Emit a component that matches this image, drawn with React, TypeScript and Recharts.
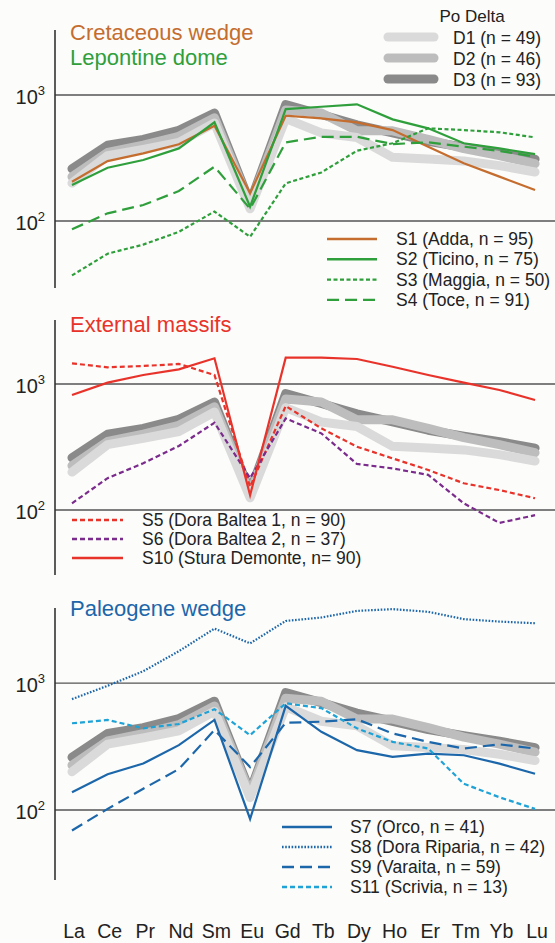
import React from 'react';
import { LineChart, Line, XAxis, YAxis, ReferenceLine } from 'recharts';

// Rare earth elements (x axis)
const ree = ['La', 'Ce', 'Pr', 'Nd', 'Sm', 'Eu', 'Gd', 'Tb', 'Dy', 'Ho', 'Er', 'Tm', 'Yb', 'Lu'];
const yTicks = [100, 1000];

// Po Delta reference bands
const d1 = [200, 330, 370, 420, 600, 125, 650, 500, 460, 320, 310, 300, 275, 245];
const d2 = [225, 350, 400, 470, 660, 135, 760, 720, 520, 520, 445, 375, 330, 285];
const d3 = [260, 400, 445, 525, 720, 140, 840, 700, 580, 500, 430, 385, 348, 310];

// Cretaceous wedge / Lepontine dome
const s1 = [205, 299, 344, 406, 571, 166, 685, 653, 607, 527, 389, 287, 225, 176];
const s2 = [193, 265, 305, 377, 607, 130, 774, 807, 844, 641, 544, 414, 377, 340];
const s3 = [37, 55, 65, 82, 119, 75, 199, 243, 361, 414, 544, 527, 506, 461];
const s4 = [86, 115, 134, 173, 270, 125, 421, 466, 466, 408, 421, 389, 360, 324];

// External massifs
const s5 = [1459, 1357, 1390, 1442, 1179, 153, 669, 445, 318, 257, 208, 163, 144, 124];
const s6 = [113, 179, 235, 322, 493, 179, 533, 406, 232, 214, 190, 113, 79, 91];
const s10 = [818, 1025, 1179, 1307, 1600, 131, 1618, 1620, 1579, 1372, 1179, 1025, 896, 747];

// Paleogene wedge
const s7 = [138, 191, 232, 324, 512, 85, 661, 413, 296, 262, 278, 270, 232, 193];
const s8 = [747, 952, 1238, 1782, 2684, 2053, 3083, 3281, 3700, 3820, 3638, 3186, 3048, 2958];
const s9 = [69, 102, 147, 210, 427, 218, 486, 496, 518, 401, 344, 305, 329, 305];
const s11 = [482, 512, 440, 476, 622, 389, 693, 634, 440, 344, 305, 161, 126, 102];

const data = ree.map((name, i) => ({
  i, name,
  D1: d1[i], D2: d2[i], D3: d3[i],
  S1: s1[i], S2: s2[i], S3: s3[i], S4: s4[i],
  S5: s5[i], S6: s6[i], S10: s10[i],
  S7: s7[i], S8: s8[i], S9: s9[i], S11: s11[i],
}));

const FONT = '"Liberation Sans", Arial, Helvetica, sans-serif';
const ORANGE = '#c46d2e';
const GREEN = '#2f9f3c';
const RED = '#e8332b';
const PURPLE = '#7a2b8c';
const BLUE = '#1c66aa';
const LBLUE = '#1fa3d6';

const deltaCfg = [
  { key: 'D3', label: 'D3 (n = 93)', color: '#8a8a8a' },
  { key: 'D2', label: 'D2 (n = 46)', color: '#bdbdbd' },
  { key: 'D1', label: 'D1 (n = 49)', color: '#dadada' },
];

type S = { key: string; label: string; color: string; dash?: string; w?: number };
const panel1: S[] = [
  { key: 'S1', label: 'S1 (Adda, n = 95)', color: ORANGE },
  { key: 'S2', label: 'S2 (Ticino, n = 75)', color: GREEN },
  { key: 'S3', label: 'S3 (Maggia, n = 50)', color: GREEN, dash: '4 2.5' },
  { key: 'S4', label: 'S4 (Toce, n = 91)', color: GREEN, dash: '12 6' },
];
const panel2: S[] = [
  { key: 'S5', label: 'S5 (Dora Baltea 1, n = 90)', color: RED, dash: '5 3' },
  { key: 'S6', label: 'S6 (Dora Baltea 2, n = 37)', color: PURPLE, dash: '5 3' },
  { key: 'S10', label: 'S10 (Stura Demonte, n= 90)', color: RED },
];
const panel3: S[] = [
  { key: 'S7', label: 'S7 (Orco, n = 41)', color: BLUE },
  { key: 'S8', label: 'S8 (Dora Riparia, n = 42)', color: BLUE, dash: '1.6 1.6' },
  { key: 'S9', label: 'S9 (Varaita, n = 59)', color: BLUE, dash: '12 6' },
  { key: 'S11', label: 'S11 (Scrivia, n = 13)', color: LBLUE, dash: '5 3' },
];

const PowTick = (props: any) => {
  const { x, y, payload } = props;
  const exp = Math.round(Math.log10(payload.value));
  return (
    <text x={x - 2} y={y + 9} textAnchor="end" fontSize={20} fill="#222" fontFamily={FONT}>
      10<tspan dy={-9} fontSize={13}>{exp}</tspan>
    </text>
  );
};

const ReeTick = (props: any) => {
  const { x, y, payload } = props;
  return (
    <text x={x + 2} y={y + 50} textAnchor="middle" fontSize={19.5} fill="#222" fontFamily={FONT}>
      {ree[payload.value]}
    </text>
  );
};

const xDomain: [number, number] = [-0.477, 13.56];

function Panel({ top, height, margin, domain, series, showX }: any) {
  return (
    <div style={{ position: 'absolute', left: 0, top }}>
      <LineChart width={555} height={height} data={data} margin={margin}>
        <XAxis
          dataKey="i"
          type="number"
          domain={xDomain}
          ticks={ree.map((_, i) => i)}
          allowDataOverflow
          hide={!showX}
          height={63}
          axisLine={false}
          tickLine={false}
          interval={0}
          tick={<ReeTick />}
        />
        <YAxis
          scale="log"
          type="number"
          domain={domain}
          allowDataOverflow
          ticks={yTicks}
          width={55}
          axisLine={{ stroke: '#333', strokeWidth: 1.6 }}
          tickLine={false}
          tick={<PowTick />}
        />
        {yTicks.map((t) => (
          <ReferenceLine key={t} y={t} stroke="#555" strokeWidth={1.3} ifOverflow="hidden" />
        ))}
        {deltaCfg.map((d) => (
          <Line key={d.key} dataKey={d.key} stroke={d.color} strokeWidth={9} strokeLinecap="round"
            strokeLinejoin="round" dot={false} activeDot={false} isAnimationActive={false} type="linear" />
        ))}
        {series.map((s: S) => (
          <Line key={s.key} dataKey={s.key} stroke={s.color} strokeWidth={s.w ?? 2.2}
            strokeDasharray={s.dash} dot={false} activeDot={false} isAnimationActive={false} type="linear" />
        ))}
      </LineChart>
    </div>
  );
}

function LegendRows({ items, x, y, step, lineLen, gap }: { items: S[]; x: number; y: number; step: number; lineLen: number; gap: number }) {
  return (
    <g>
      {items.map((s, k) => (
        <g key={s.key}>
          <line x1={x} x2={x + lineLen} y1={y + k * step} y2={y + k * step} stroke={s.color}
            strokeWidth={2.4} strokeDasharray={s.dash} />
          <text x={x + lineLen + gap} y={y + k * step + 6} fontSize={17.5} fill="#222">{s.label}</text>
        </g>
      ))}
    </g>
  );
}

function Overlay() {
  const deltaLegend = [...deltaCfg].reverse();
  return (
    <svg width={555} height={943} style={{ position: 'absolute', left: 0, top: 0, pointerEvents: 'none' }}
      fontFamily={FONT}>
      <text x={70} y={40} fontSize={22} fill={ORANGE}>Cretaceous wedge</text>
      <text x={70} y={65} fontSize={22} fill={GREEN}>Lepontine dome</text>
      <text x={70} y={332} fontSize={22} fill={RED}>External massifs</text>
      <text x={70} y={616} fontSize={22} fill={BLUE}>Paleogene wedge</text>

      <text x={472} y={22} fontSize={17} fill="#222" textAnchor="middle">Po Delta</text>
      {deltaLegend.map((d, k) => (
        <g key={d.key}>
          <line x1={388} x2={434} y1={37 + k * 21} y2={37 + k * 21} stroke={d.color} strokeWidth={9} strokeLinecap="round" />
          <text x={453} y={44 + k * 21} fontSize={17.5} fill="#222">{d.label}</text>
        </g>
      ))}

      <LegendRows items={panel1} x={327} y={239} step={20.3} lineLen={50} gap={19} />
      <LegendRows items={panel2} x={72} y={520} step={19} lineLen={51} gap={19} />
      <LegendRows items={panel3} x={282} y={827} step={20} lineLen={50} gap={18} />
    </svg>
  );
}

export default function App() {
  return (
    <div style={{ position: 'absolute', left: 0, top: 0, width: 555, height: 943, background: '#fcfcfa', overflow: 'hidden' }}>
      <Panel top={0} height={300} margin={{ top: 30, right: 0, bottom: 12, left: 0 }}
        domain={[29.4, 3281]} series={panel1} showX={false} />
      <Panel top={300} height={290} margin={{ top: 20, right: 0, bottom: 15, left: 0 }}
        domain={[30.5, 3221]} series={panel2} showX={false} />
      <Panel top={590} height={353} margin={{ top: 18, right: 0, bottom: 0, left: 0 }}
        domain={[28.1, 3899]} series={panel3} showX={true} />
      <Overlay />
    </div>
  );
}
